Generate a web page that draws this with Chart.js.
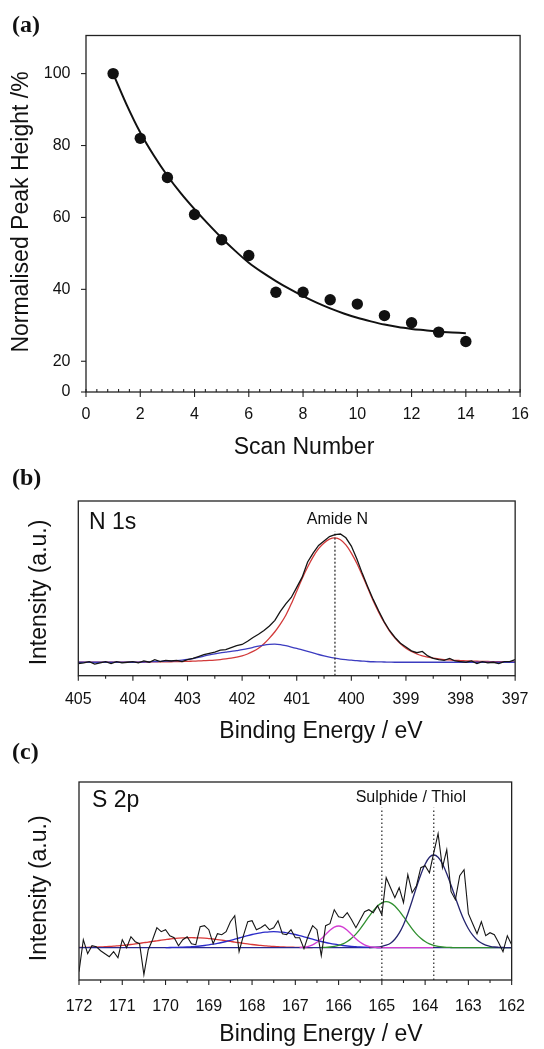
<!DOCTYPE html>
<html>
<head>
<meta charset="utf-8">
<script src="https://cdn.jsdelivr.net/npm/chart.js@4.4.0/dist/chart.umd.min.js"></script>
<style>
html, body { margin: 0; padding: 0; background: #fff; }
body { width: 544px; height: 1049px; position: relative; overflow: hidden; }
canvas { position: absolute; left: 0; }
#chartA { top: 0; }
#chartB { top: 460px; }
#chartC { top: 735px; }
</style>
</head>
<body>
<canvas id="chartA" width="544" height="460"></canvas>
<canvas id="chartB" width="544" height="290"></canvas>
<canvas id="chartC" width="544" height="314"></canvas>
<script>
// ---- (a) peak height vs scan number ----
const scanNumbers = [1, 2, 3, 4, 5, 6, 7, 8, 9, 10, 11, 12, 13, 14];
const peakHeights = [100, 82, 71.1, 60.8, 53.8, 49.4, 39.2, 39.2, 37.1, 35.9, 32.7, 30.7, 28.1, 25.5];
const fitScans = [1, 1.5, 2, 2.5, 3, 3.5, 4, 4.5, 5, 5.5, 6, 6.5, 7, 7.5, 8, 8.5, 9, 9.5, 10, 10.5, 11, 11.5, 12, 12.5, 13, 13.5, 14];
const fitHeights = [100, 91.3, 83.6, 77.2, 71.6, 66.7, 62.3, 58.2, 54.3, 50.7, 47.4, 44.7, 42.3, 40.1, 38.1, 36.3, 34.7, 33.3, 32.1, 31.1, 30.2, 29.5, 29, 28.6, 28.2, 28, 27.8];
const yTicksA = [20, 40, 60, 80, 100];
const yBreakLabelA = '0';
const yMinA = 11.45, yMaxA = 110.6;

// ---- (b) N 1s spectrum, 405 -> 397 eV every 0.1 eV ----
const energyStartB = 405, energyStepB = 0.1;
const n1sData = [
  -1, -0.5, 0.5, -1.5, -0.5, 0.5, -1, 0.5, -0.5, 0,
  0.5, -0.5, 1, 0, 2, 0.5, 1.5, 1, 1.5, 0.5,
  2, 3, 4.5, 6, 7, 8, 9.5, 10, 11.5, 13,
  14, 16.5, 19.5, 22, 25, 28.5, 33, 40, 46, 51,
  59, 67, 79, 86, 92, 95.5, 99, 100.5, 101, 98,
  91.5, 81.5, 70, 59.5, 49.5, 40.5, 32, 25, 19.5, 15,
  12, 9, 7.5, 8.5, 5, 3, 2, 1.5, 3, 1,
  0.5, 0, 1, -1, 0.5, -0.5, 0, -1, 0.5, 0.5,
  2
];
const amideFit = [
  0, 0, 0, 0.05, 0.05, 0.05, 0.1, 0.1, 0.1, 0.1,
  0.1, 0.15, 0.15, 0.2, 0.25, 0.3, 0.35, 0.4, 0.5, 0.6,
  0.7, 0.85, 1, 1.2, 1.4, 1.7, 2.1, 2.6, 3.2, 4,
  5, 6.5, 8.5, 11, 14.5, 19, 24, 30, 37, 46,
  56, 66, 75, 83, 89.5, 94, 97, 98, 96.5, 92.5,
  86, 78, 68.5, 58.5, 48.5, 39.5, 31.5, 24.5, 19, 14.5,
  11, 8.5, 6.5, 5, 4, 3.2, 2.6, 2.1, 1.8, 1.5,
  1.3, 1.1, 0.95, 0.8, 0.7, 0.6, 0.5, 0.45, 0.4, 0.35,
  0.3
];
const secondFitB = [
  0, 0, 0, 0, 0, 0, 0, 0, 0, 0,
  0, 0, 0.2, 0.35, 0.5, 0.7, 0.9, 1.1, 1.35, 1.7,
  2.2, 2.9, 3.8, 4.8, 5.8, 6.6, 7.3, 7.9, 8.5, 9.2,
  9.9, 10.7, 11.7, 12.7, 13.5, 14, 14.2, 13.8, 13, 12,
  10.9, 9.7, 8.5, 7.3, 6.1, 5, 4, 3.2, 2.5, 2,
  1.6, 1.2, 0.9, 0.6, 0.4, 0.3, 0.2, 0.1, 0, 0,
  0, 0, 0, 0, 0, 0, 0, 0, 0, 0,
  0, 0, 0, 0, 0, 0, 0, 0, 0, 0,
  0
];
const amidePosition = 400.3;
const dashRangeB = [-10.6, 103];

// ---- (c) S 2p spectrum, 172 -> 162 eV every 0.1 eV ----
const energyStartC = 172, energyStepC = 0.1;
const s2pData = [
  -24, 8, -6, 2, 1, -3, -6, -9, -4, -10,
  8, 0, 11, 6, 4, -27, -2, 8, 20, 16,
  18, 12, 10, 2, 8, 11, 4, 3, 21, 22,
  18, 4, 14, 13, 16, 26, 32, -4, 12, 26,
  27, 18, 20, 23, 18, 20, 27, 14, 13, 18,
  10, 10, -1, 12, 22, 18, -8, 22, 24, 38,
  31, 30, 35, 28, 20, 28, 36, 38, 35, 42,
  33, 70, 60, 50, 60, 45, 73, 55, 62, 80,
  82, 75, 95, 114, 80, 98, 56, 48, 72, 78,
  34, 24, 14, 26, 12, 15, 13, 5, -4, 12,
  3
];
const thiolFrom = 165.3;
const thiolFit = [0.1, 0.3, 0.6, 1.3, 2.5, 4.5, 8.5, 14.5, 23, 34, 47, 60.5, 73, 83.5, 90.5, 92.7, 90.5, 84, 74, 62.5, 50, 38, 27.5, 19, 12.5, 7.8, 4.7, 2.6, 1.4, 0.7, 0.4, 0.2, 0.1, 0];
const sulphideFrom = 166.4;
const sulphideFit = [0.2, 0.35, 0.7, 1.3, 2.3, 3.9, 6.2, 9.5, 13.6, 18.9, 24.8, 31, 36.8, 41.7, 44.9, 46, 44.9, 41.7, 36.8, 31, 24.8, 18.9, 13.6, 9.5, 6.2, 3.9, 2.3, 1.3, 0.7, 0.35, 0.2, 0, 0, 0, 0, 0, 0, 0, 0, 0, 0, 0, 0, 0, 0];
const magentaFrom = 166.9;
const magentaFit = [0.2, 0.6, 1.4, 2.9, 5.4, 8.9, 13.2, 17.4, 20.5, 21.7, 20.5, 17.4, 13.2, 8.9, 5.4, 2.9, 1.4, 0.6, 0.2, 0, 0, 0, 0, 0, 0, 0, 0, 0, 0, 0, 0, 0];
const blueFromC = 170.0;
const blueFitC = [0.1, 0.2, 0.3, 0.4, 0.5, 0.7, 1, 1.3, 1.7, 2.2, 2.8, 3.5, 4.3, 5.2, 6.2, 7.3, 8.5, 9.7, 10.9, 12.1, 13.2, 14.1, 14.9, 15.5, 15.9, 16, 15.9, 15.5, 14.9, 14.1, 13.2, 12.1, 10.9, 9.7, 8.5, 7.3, 6.2, 5.2, 4.3, 3.5, 2.8, 2.2, 1.7, 1.3, 1, 0.7, 0.5, 0.4, 0.3, 0.2, 0.1];
const redFromC = 172.0;
const redFitC = [0.2, 0.3, 0.4, 0.5, 0.6, 0.8, 1, 1.2, 1.5, 1.9, 2.3, 2.7, 3.2, 3.8, 4.4, 5, 5.6, 6.3, 6.9, 7.5, 8.1, 8.7, 9.1, 9.5, 9.8, 9.9, 10, 9.9, 9.8, 9.5, 9.1, 8.7, 8.1, 7.5, 6.9, 6.3, 5.6, 5, 4.4, 3.8, 3.2, 2.7, 2.3, 1.9, 1.5, 1.2, 1, 0.8, 0.6, 0.5, 0.4, 0.3, 0.2, 0.15, 0.1];
const baselineC = [0, 0];
const sulphidePositions = [165.0, 163.8];
const dashRangeC = [-32.3, 140];

// helpers
const toPoints = (start, step, ys) => ys.map((y, i) => ({ x: +(start - i * step).toFixed(2), y }));
const vline = (x, range) => range.map(y => ({ x, y }));
const SANS = '"Liberation Sans", Arial, sans-serif';

Chart.defaults.font.family = SANS;
Chart.defaults.color = '#111';
Chart.defaults.animation = false;

function frameTicks(cfg) {
  return {
    id: 'frameTicks',
    afterDatasetsDraw(chart) {
      const { ctx, chartArea: a } = chart;
      const xs = chart.scales.x, ys = chart.scales.y;
      ctx.save();
      ctx.strokeStyle = '#222';
      ctx.lineWidth = 1.3;
      ctx.strokeRect(a.left, a.top, a.right - a.left, a.bottom - a.top);
      ctx.lineWidth = 1.1;
      (cfg.x || []).forEach(t => {
        for (let v = t.from; v <= t.to + 1e-6; v += t.step) {
          const p = xs.getPixelForValue(v);
          ctx.beginPath();
          ctx.moveTo(p, a.bottom);
          ctx.lineTo(p, a.bottom + t.len);
          ctx.stroke();
        }
      });
      (cfg.y || []).forEach(t => {
        t.values.forEach(v => {
          const p = ys.getPixelForValue(v);
          ctx.beginPath();
          ctx.moveTo(a.left, p);
          ctx.lineTo(a.left - t.len, p);
          ctx.stroke();
        });
      });
      ctx.restore();
    }
  };
}

function texts(items) {
  return {
    id: 'texts',
    afterDraw(chart) {
      const ctx = chart.ctx;
      items.forEach(t => {
        ctx.save();
        ctx.font = t.font;
        ctx.fillStyle = '#111';
        ctx.textAlign = t.align || 'center';
        ctx.textBaseline = 'middle';
        const x = t.dataX !== undefined ? chart.scales.x.getPixelForValue(t.dataX) + (t.dx || 0) : t.x;
        ctx.translate(x, t.y);
        if (t.rotate) ctx.rotate(t.rotate);
        ctx.fillText(t.text, 0, 0);
        ctx.restore();
      });
    }
  };
}

const line = (data, color, width, extra) => Object.assign({
  data, showLine: true, borderColor: color, backgroundColor: color,
  borderWidth: width, pointRadius: 0, fill: false, tension: 0
}, extra || {});

const hiddenY = (min, max, width) => ({
  min, max, ticks: { display: false }, grid: { display: false, drawTicks: false },
  border: { display: false }, afterFit: s => { s.width = width; }
});
const energyX = (min, max, height, pad) => ({
  type: 'linear', reverse: true, min, max,
  grid: { display: false, drawTicks: false }, border: { display: false },
  ticks: { stepSize: 1, padding: pad, autoSkip: false, maxRotation: 0, font: { size: 16, lineHeight: 1 } },
  afterFit: s => { s.height = height; }
});

// ---- chart (a) ----
new Chart(document.getElementById('chartA'), {
  type: 'scatter',
  data: {
    datasets: [
      { data: scanNumbers.map((x, i) => ({ x, y: peakHeights[i] })), pointRadius: 5.7,
        pointBackgroundColor: '#111', pointBorderColor: '#111', pointBorderWidth: 0 },
      line(fitScans.map((x, i) => ({ x, y: fitHeights[i] })), '#111', 2, { cubicInterpolationMode: 'monotone' })
    ]
  },
  options: {
    responsive: false,
    layout: { padding: { top: 35.5, right: 11.6, left: 0, bottom: 0 } },
    plugins: { legend: { display: false }, tooltip: { enabled: false } },
    scales: {
      x: {
        type: 'linear', min: 0, max: 16,
        grid: { display: false, drawTicks: false }, border: { display: false },
        ticks: { stepSize: 2, padding: 15, autoSkip: false, maxRotation: 0, font: { size: 16, lineHeight: 1 } },
        afterFit: s => { s.height = 460 - 392; }
      },
      y: {
        min: yMinA, max: yMaxA,
        grid: { display: false, drawTicks: false }, border: { display: false },
        afterBuildTicks: s => { s.ticks = [yMinA, ...yTicksA].map(value => ({ value })); },
        ticks: { padding: 15.5, font: { size: 16, lineHeight: 1 },
          callback: v => (v === yMinA ? yBreakLabelA : v) },
        afterFit: s => { s.width = 86; }
      }
    }
  },
  plugins: [
    frameTicks({
      x: [{ from: 0, to: 16, step: 2, len: 5 }, { from: 0, to: 16, step: 0.4, len: -3 }],
      y: [{ values: [yMinA, ...yTicksA], len: 5 }]
    }),
    texts([
      { text: '(a)', x: 12, y: 26, font: 'bold 24px "Liberation Serif", serif', align: 'left' },
      { text: 'Normalised Peak Height /%', x: 22, y: 212, font: '23px ' + SANS, rotate: -Math.PI / 2 },
      { text: 'Scan Number', x: 304, y: 448, font: '23px ' + SANS }
    ])
  ]
});

// ---- chart (b) ----
new Chart(document.getElementById('chartB'), {
  type: 'scatter',
  data: {
    datasets: [
      line(toPoints(energyStartB, energyStepB, n1sData), '#151515', 1.3),
      line(vline(amidePosition, dashRangeB), '#222', 1.2, { borderDash: [2, 2] }),
      line(toPoints(energyStartB, energyStepB, secondFitB), '#3c3cc0', 1.3, { tension: 0.3 }),
      line(toPoints(energyStartB, energyStepB, amideFit), '#d23a3a', 1.3, { tension: 0.3 })
    ]
  },
  options: {
    responsive: false,
    layout: { padding: { top: 41, right: 544 - 527.1, left: 0, bottom: 0 } },
    plugins: { legend: { display: false }, tooltip: { enabled: false } },
    scales: {
      x: energyX(397, 405, 290 - 215.7, 15.5),
      y: hiddenY(-10.6, 127, 78.3)
    }
  },
  plugins: [
    frameTicks({ x: [{ from: 397, to: 405, step: 1, len: 5 }, { from: 397.5, to: 404.5, step: 1, len: 3 }] }),
    texts([
      { text: '(b)', x: 12, y: 18.5, font: 'bold 24px "Liberation Serif", serif', align: 'left' },
      { text: 'N 1s', x: 89, y: 63, font: '23px ' + SANS, align: 'left' },
      { text: 'Amide N', dataX: amidePosition, dx: 2.5, y: 59.5, font: '16px ' + SANS },
      { text: 'Intensity (a.u.)', x: 39.5, y: 132.5, font: '23px ' + SANS, rotate: -Math.PI / 2 },
      { text: 'Binding Energy / eV', x: 321, y: 271.5, font: '23px ' + SANS }
    ])
  ]
});

// ---- chart (c) ----
new Chart(document.getElementById('chartC'), {
  type: 'scatter',
  data: {
    datasets: [
      line(toPoints(energyStartC, energyStepC, s2pData), '#151515', 1.1),
      line(vline(sulphidePositions[0], dashRangeC), '#222', 1.2, { borderDash: [1.5, 2.5] }),
      line(vline(sulphidePositions[1], dashRangeC), '#222', 1.2, { borderDash: [1.5, 2.5] }),
      line(toPoints(magentaFrom, energyStepC, magentaFit), '#d23cd2', 1.3, { tension: 0.3 }),
      line(toPoints(thiolFrom, energyStepC, thiolFit), '#25256e', 1.3, { tension: 0.3 }),
      line(toPoints(sulphideFrom, energyStepC, sulphideFit), '#2f8f2f', 1.3, { tension: 0.3 }),
      line(toPoints(blueFromC, energyStepC, blueFitC), '#2a2ac8', 1.3, { tension: 0.3 }),
      line(baselineC.map((y, i) => ({ x: i ? 162 : 172, y })), '#28288f', 1.3),
      line(toPoints(redFromC, energyStepC, redFitC), '#d83838', 1.3, { tension: 0.3 })
    ]
  },
  options: {
    responsive: false,
    layout: { padding: { top: 47, right: 544 - 525, left: 0, bottom: 0 } },
    plugins: { legend: { display: false }, tooltip: { enabled: false } },
    scales: {
      x: energyX(162, 172, 314 - 245, 19),
      y: hiddenY(-32.3, 165.7, 79)
    }
  },
  plugins: [
    frameTicks({ x: [{ from: 162, to: 172, step: 1, len: 5 }, { from: 162.5, to: 171.5, step: 1, len: 3 }] }),
    texts([
      { text: '(c)', x: 12, y: 17.5, font: 'bold 24px "Liberation Serif", serif', align: 'left' },
      { text: 'S 2p', x: 92, y: 65.8, font: '23px ' + SANS, align: 'left' },
      { text: 'Sulphide / Thiol', dataX: (sulphidePositions[0] + sulphidePositions[1]) / 2, dx: 3, y: 62.5, font: '16px ' + SANS },
      { text: 'Intensity (a.u.)', x: 39.5, y: 153.3, font: '23px ' + SANS, rotate: -Math.PI / 2 },
      { text: 'Binding Energy / eV', x: 321, y: 300, font: '23px ' + SANS }
    ])
  ]
});
</script>
</body>
</html>
